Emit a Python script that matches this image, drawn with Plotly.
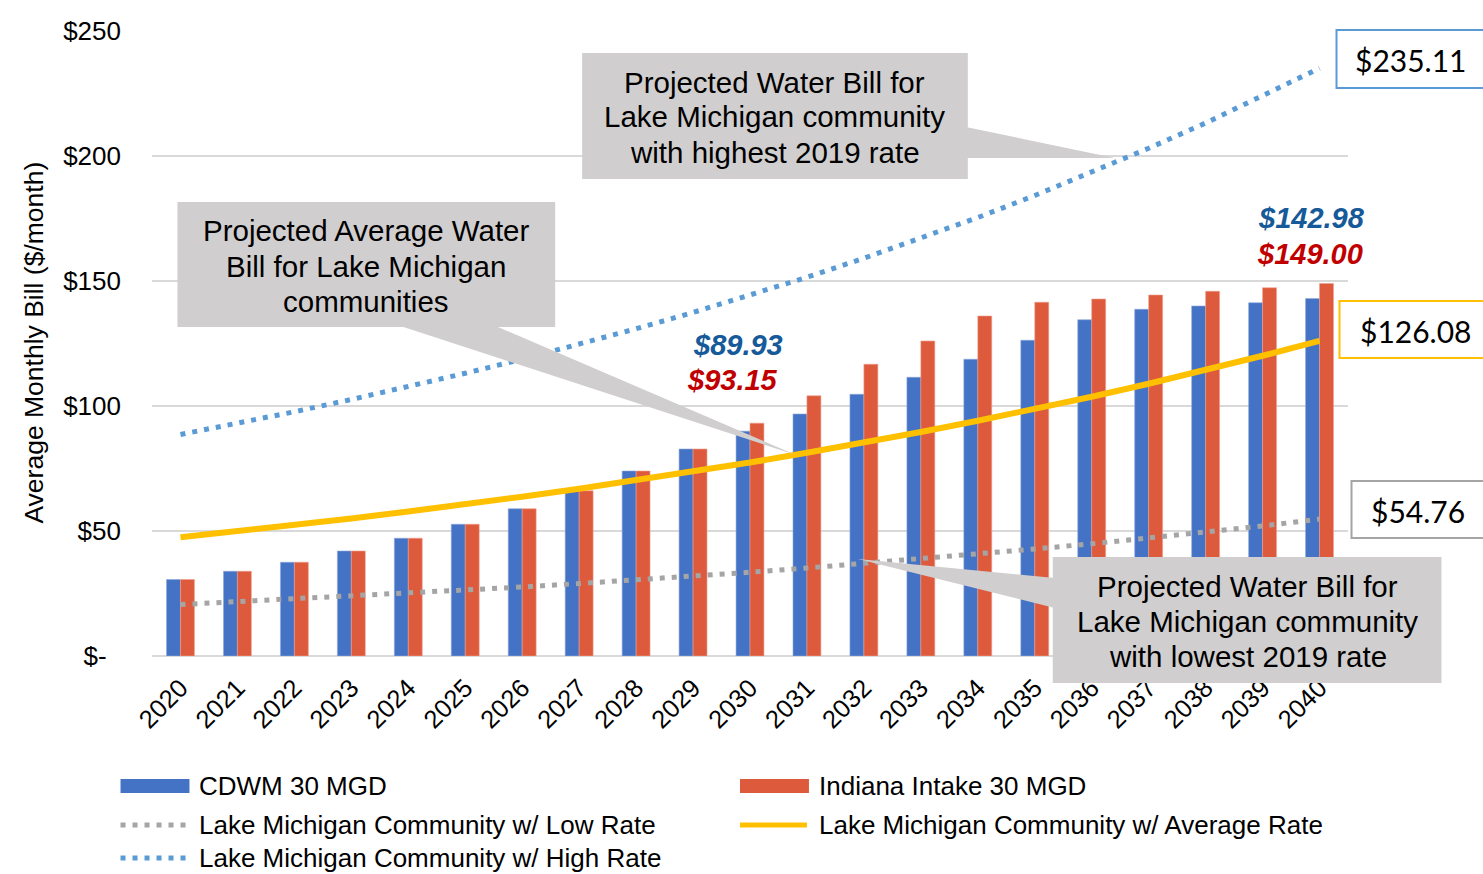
import plotly.graph_objects as go

years = [str(y) for y in range(2020, 2041)]
cdwm = [30.6, 33.9, 37.5, 42.0, 47.1, 52.7, 58.9, 66.1, 74.0, 82.8, 89.93,
        96.8, 104.7, 111.5, 118.7, 126.3, 134.5, 138.7, 140.0, 141.3, 142.98]
indiana = [30.6, 33.9, 37.5, 42.0, 47.1, 52.7, 58.9, 66.1, 74.0, 82.8, 93.15,
           104.1, 116.7, 126.0, 136.0, 141.5, 142.8, 144.4, 145.9, 147.3, 149.00]
low_rate = [20.6, 21.7, 22.7, 23.9, 25.0, 26.3, 27.6, 29.0, 30.4, 31.9, 33.5,
            35.2, 37.0, 38.8, 40.8, 42.8, 44.9, 47.2, 49.5, 52.0, 54.76]
avg_rate = [47.5, 49.9, 52.4, 55.0, 57.8, 60.6, 63.7, 66.9, 70.2, 73.7, 77.4,
            81.3, 85.3, 89.6, 94.1, 98.8, 103.7, 108.9, 114.4, 120.1, 126.08]
high_rate = [88.6, 93.0, 97.7, 102.6, 107.7, 113.1, 118.7, 124.7, 130.9, 137.4, 144.3,
             151.5, 159.1, 167.1, 175.4, 184.2, 193.4, 203.1, 213.2, 223.9, 235.11]
ytick_vals = [0, 50, 100, 150, 200, 250]
ytick_text = ["$-\u00a0\u00a0", "$50", "$100", "$150", "$200", "$250"]

BLUE = "#4472C4"
RED = "#DD5A3C"
GRAY = "#A5A5A5"
YELLOW = "#FFC000"
LBLUE = "#5B9BD5"
CALLOUT = "#D0CECE"
FONT = "Liberation Sans, Arial, sans-serif"

W, H = 1483, 874
L, R, T, B = 151.5, 1348.5, 31, 656
PW, PH = R - L, B - T


def px(x):
    return (x - L) / PW


def py(y):
    return (B - y) / PH


fig = go.Figure()
fig.add_trace(go.Bar(x=years, y=cdwm, name="CDWM 30 MGD", marker_color=BLUE,
                     marker_line_width=0.6, marker_line_color="#8FA9DC"))
fig.add_trace(go.Bar(x=years, y=indiana, name="Indiana Intake 30 MGD", marker_color=RED,
                     marker_line_width=0.6, marker_line_color="#EFA08E"))
fig.add_trace(go.Scatter(x=years, y=low_rate, mode="lines", name="Lake Michigan Community w/ Low Rate",
                         line=dict(color=GRAY, width=5, dash="5px,7px")))
fig.add_trace(go.Scatter(x=years, y=avg_rate, mode="lines", name="Lake Michigan Community w/ Average Rate",
                         line=dict(color=YELLOW, width=6)))
fig.add_trace(go.Scatter(x=years, y=high_rate, mode="lines", name="Lake Michigan Community w/ High Rate",
                         line=dict(color=LBLUE, width=5, dash="5px,7px")))

shapes = []
annotations = []


def poly(points, color):
    path = "M " + " L ".join(f"{px(x):.5f},{py(y):.5f}" for x, y in points) + " Z"
    shapes.append(dict(type="path", xref="paper", yref="paper", path=path,
                       fillcolor=color, line=dict(width=0), layer="above"))


def rect(x0, y0, x1, y1, fill, line_color=None, lw=0):
    shapes.append(dict(type="rect", xref="paper", yref="paper",
                       x0=px(x0), x1=px(x1), y0=py(y1), y1=py(y0),
                       fillcolor=fill, line=dict(width=lw, color=line_color or fill), layer="above"))


def text(x, y, s, size, color="black", xanchor="center", bold=False, italic=False, family=FONT, angle=0):
    if bold:
        s = f"<b>{s}</b>"
    if italic:
        s = f"<i>{s}</i>"
    annotations.append(dict(x=px(x), y=py(y), xref="paper", yref="paper", text=s, showarrow=False,
                            xanchor=xanchor, yanchor="middle", textangle=angle,
                            font=dict(size=size, color=color, family=family)))


def lines(x, y_first, spacing, rows, size):
    for i, row in enumerate(rows):
        text(x, y_first + i * spacing, row, size)


# Callout 1 (high rate)
poly([(966, 127), (966, 158), (1115, 158)], CALLOUT)
rect(582, 53, 968, 179, CALLOUT)
lines(775, 82, 35, ["Projected Water Bill for", "Lake Michigan community", "with highest 2019 rate"], 29.5)

# Callout 2 (average)
poly([(397, 325), (493, 325), (796, 455)], CALLOUT)
rect(177, 202, 555, 327, CALLOUT)
lines(366, 231, 35, ["Projected Average Water", "Bill for Lake Michigan", "communities"], 29.5)

# Callout 3 (low rate)
poly([(858, 559), (1055, 578), (1055, 608)], CALLOUT)
rect(1053, 557, 1442, 683, CALLOUT)
lines(1248, 586, 35, ["Projected Water Bill for", "Lake Michigan community", "with lowest 2019 rate"], 29.5)

# Value labels
text(738, 345, "$89.93", 29, color="#165A9A", bold=True, italic=True)
text(732, 380, "$93.15", 29, color="#C00000", bold=True, italic=True)
text(1312, 218, "$142.98", 29, color="#165A9A", bold=True, italic=True)
text(1310, 254, "$149.00", 29, color="#C00000", bold=True, italic=True)

# End-value boxes
rect(1337, 30, 1495, 88, "white", LBLUE, 2)
text(1411, 60, "$235.11", 30, family="Lato, Liberation Sans, sans-serif")
rect(1340, 301, 1495, 358, "white", YELLOW, 2)
text(1416, 331, "$126.08", 30, family="Lato, Liberation Sans, sans-serif")
rect(1352, 481, 1495, 538, "white", GRAY, 2)
text(1419, 511, "$54.76", 30, family="Lato, Liberation Sans, sans-serif")

# Y-axis title
text(33, 343, "Average Monthly Bill ($/month)", 26.5, angle=-90)

# Manual legend
legend_items = [
    ("CDWM 30 MGD", BLUE, "bar", 120, 786),
    ("Indiana Intake 30 MGD", RED, "bar", 740, 786),
    ("Lake Michigan Community w/ Low Rate", GRAY, "dot", 120, 825),
    ("Lake Michigan Community w/ Average Rate", YELLOW, "line", 740, 825),
    ("Lake Michigan Community w/ High Rate", LBLUE, "dot", 120, 858),
]
for name, color, kind, x, y in legend_items:
    if kind == "bar":
        rect(x, y - 7, x + 69, y + 7, color)
    else:
        shapes.append(dict(type="line", xref="paper", yref="paper",
                           x0=px(x), x1=px(x + 67), y0=py(y), y1=py(y),
                           line=dict(color=color, width=5,
                                     dash="5px,7px" if kind == "dot" else "solid"),
                           layer="above"))
    text(x + 77, y, name, 26, xanchor="left")

fig.update_layout(
    width=W, height=H,
    margin=dict(l=L, r=W - R, t=T, b=H - B, pad=0),
    paper_bgcolor="white", plot_bgcolor="white",
    barmode="group", bargap=0.51, bargroupgap=0,
    showlegend=False,
    font=dict(family=FONT, size=24, color="black"),
    xaxis=dict(type="category", tickangle=-45, tickfont=dict(size=25.5),
               showgrid=False, showline=False, ticks="", ticklabelstandoff=11),
    yaxis=dict(range=[0, 250], tickvals=ytick_vals, ticktext=ytick_text,
               tickfont=dict(size=26), showgrid=True, gridcolor="#D9D9D9", gridwidth=2,
               zeroline=True, zerolinecolor="#D9D9D9", zerolinewidth=2,
               showline=False, ticks="", ticklabelstandoff=30),
    shapes=shapes,
    annotations=annotations,
)

fig.write_html("out.html", config={"displayModeBar": False},
               post_script="document.body.style.margin='0';document.body.style.overflow='hidden';")
